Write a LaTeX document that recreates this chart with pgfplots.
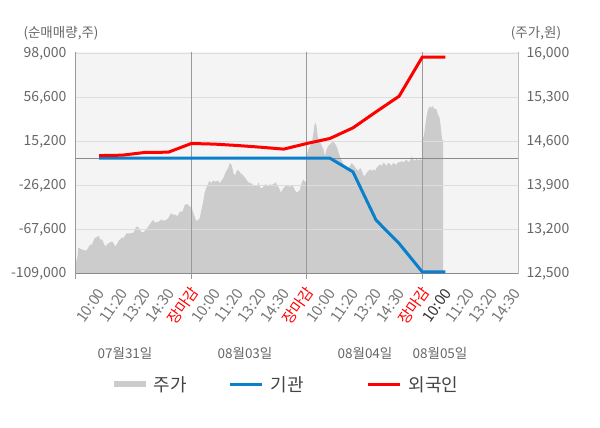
\documentclass[border=0pt]{standalone}
\usepackage{fontspec}
\setmainfont{Noto Sans CJK KR}
\usepackage{pgfplots}
\pgfplotsset{compat=1.18}
\definecolor{bgc}{HTML}{F4F4F4}
\definecolor{areac}{HTML}{CCCCCC}
\definecolor{gridc}{HTML}{DDDDDD}
\definecolor{dayc}{HTML}{999999}
\definecolor{zeroc}{HTML}{8A8A8A}
\definecolor{txtc}{HTML}{666666}
\definecolor{xtc}{HTML}{777777}
\definecolor{legc}{HTML}{444444}
\definecolor{bluec}{HTML}{0A7FCB}
\definecolor{redc}{HTML}{FF0000}
\newcommand{\tk}{\fontsize{14}{16}\selectfont}
\newcommand{\xk}{\fontsize{15}{17}\selectfont}
\begin{document}
\begin{tikzpicture}[x=1pt,y=1pt]
\useasboundingbox (0,0) rectangle (600,428);
% price axis (right)
\begin{axis}[
  at={(76pt,154pt)}, anchor=south west,
  width=442pt, height=222pt, scale only axis,
  xmin=0, xmax=19.15, ymin=12500, ymax=16032,
  axis background/.style={fill=bgc},
  axis x line=none, axis y line*=right,
  y axis line style={draw=gridc!85!black, line width=1pt, -},
  ytick={12500,13200,13900,14600,15300,16000},
  major tick length=0pt,
  scaled y ticks=false,
  yticklabel style={font=\tk, text=txtc, anchor=west, xshift=5pt},
  /pgf/number format/.cd, fixed, 1000 sep={,}, assume math mode=true,
]
\addplot[fill=areac, draw=none] coordinates {
(0.00,12696)(0.06,12765)(0.10,12919)(0.20,12898)(0.32,12882)(0.42,12871)(0.49,12892)(0.60,12961)(0.70,12972)(0.80,13067)(0.92,13094)(0.99,13105)(1.06,13041)(1.13,13052)(1.20,12988)(1.28,12935)(1.35,12972)(1.45,12999)(1.56,13014)(1.63,12988)(1.70,12935)(1.78,12977)(1.85,13030)(1.92,13052)(1.99,13083)(2.06,13067)(2.18,13147)(2.35,13147)(2.49,13158)(2.61,13253)(2.71,13242)(2.78,13200)(2.85,13158)(2.95,13173)(3.07,13226)(3.18,13280)(3.28,13333)(3.35,13359)(3.42,13317)(3.57,13333)(3.64,13348)(3.71,13370)(3.78,13348)(3.90,13359)(4.00,13386)(4.07,13439)(4.14,13465)(4.21,13439)(4.28,13449)(4.36,13423)(4.43,13439)(4.50,13492)(4.61,13492)(4.71,13598)(4.79,13614)(4.86,13600)(4.93,13571)(5.00,13560)
(5.00,13571)(5.07,13492)(5.14,13412)(5.21,13343)(5.29,13359)(5.36,13386)(5.43,13518)(5.50,13624)(5.57,13783)(5.64,13863)(5.73,13942)(5.79,13985)(5.86,13942)(5.93,13985)(6.05,13969)(6.16,13985)(6.23,13942)(6.30,13985)(6.38,14022)(6.45,14091)(6.52,14144)(6.59,14181)(6.65,14261)(6.72,14250)(6.78,14181)(6.83,14091)(6.91,14075)(6.98,14155)(7.05,14144)(7.12,14102)(7.19,14091)(7.26,14059)(7.34,14022)(7.41,13985)(7.48,13958)(7.55,13942)(7.62,13942)(7.69,13900)(7.77,13916)(7.84,13889)(7.91,13958)(7.98,13879)(8.05,13863)(8.12,13889)(8.22,13932)(8.31,13900)(8.41,13926)(8.48,13916)(8.60,13942)(8.65,13958)(8.71,13916)(8.80,13863)(8.88,13794)(8.98,13863)(9.05,13889)(9.13,13916)(9.20,13900)(9.27,13879)(9.34,13916)(9.41,13889)(9.48,13836)(9.56,13794)(9.63,13810)(9.70,13836)(9.77,13942)(9.84,14006)(9.91,13969)(10.00,13960)
(10.00,14405)(10.07,14485)(10.14,14538)(10.22,14591)(10.29,14750)(10.33,14866)(10.37,14909)(10.42,14856)(10.45,14750)(10.50,14644)(10.57,14601)(10.65,14538)(10.72,14485)(10.79,14379)(10.86,14485)(10.93,14538)(11.01,14564)(11.08,14591)(11.16,14601)(11.24,14564)(11.31,14511)(11.38,14432)(11.45,14352)(11.52,14299)(11.59,14246)(11.70,14219)(11.77,14166)(11.87,14219)(11.94,14262)(12.03,14230)(12.10,14193)(12.17,14166)(12.24,14140)(12.31,14193)(12.39,14140)(12.46,14060)(12.53,14071)(12.60,14113)(12.67,14140)(12.74,14166)(12.82,14140)(12.89,14166)(12.96,14140)(13.03,14193)(13.10,14219)(13.18,14246)(13.25,14219)(13.32,14272)(13.39,14246)(13.46,14219)(13.53,14272)(13.61,14246)(13.68,14219)(13.75,14272)(13.82,14246)(13.89,14246)(13.97,14283)(14.04,14272)(14.11,14299)(14.18,14272)(14.25,14299)(14.32,14315)(14.40,14283)(14.47,14299)(14.54,14368)(14.61,14325)(14.68,14299)(14.76,14336)(14.83,14299)(14.90,14325)(15.00,14315)
(15.00,14617)(15.07,14697)(15.11,14803)(15.16,14935)(15.22,15068)(15.26,15121)(15.32,15163)(15.39,15147)(15.46,15174)(15.53,15121)(15.60,15131)(15.68,15041)(15.75,14988)(15.79,14882)(15.83,14750)(15.86,14644)(15.91,14620)
} \closedcycle;
\end{axis}
% net-buy axis (left)
\begin{axis}[
  at={(76pt,154pt)}, anchor=south west,
  width=442pt, height=222pt, scale only axis,
  xmin=0, xmax=19.15, ymin=-109000, ymax=99880,
  axis x line*=bottom, axis y line*=left,
  x axis line style={draw=zeroc, line width=1pt, -},
  y axis line style={draw=zeroc, line width=1pt, -},
  ytick={-109000,-67600,-26200,15200,56600,98000},
  ymajorgrids, major grid style={draw=gridc, line width=1pt},
  major tick length=0pt,
  scaled y ticks=false,
  yticklabel style={font=\tk, text=txtc, anchor=east, xshift=-6pt},
  extra y ticks={0}, extra y tick labels={},
  extra y tick style={grid=major, major grid style={draw=zeroc, line width=1pt}},
  xtick={1,...,19},
  xticklabels={10:00,11:20,13:20,14:30,\textcolor{redc}{장마감},10:00,11:20,13:20,14:30,\textcolor{redc}{장마감},10:00,11:20,13:20,14:30,\textcolor{redc}{장마감},\textcolor{black!80}{10:00},11:20,13:20,14:30},
  xticklabel style={font=\xk, text=xtc, xshift=-8.6pt, yshift=-31.5pt, rotate=55, anchor=center},
  extra x ticks={0,5,10,15},
  extra x tick labels={},
  extra x tick style={grid=major, major grid style={draw=dayc, line width=1pt}, tick align=outside, major tick length=5pt, tick style={draw=dayc, line width=1pt}},
  /pgf/number format/.cd, fixed, 1000 sep={,}, assume math mode=true,
]
\addplot[draw=bluec, line width=3pt] coordinates {
(1,0)(2,0)(3,0)(4,0)(5,0)(6,0)(7,0)(8,0)(9,0)(10,0)(11,0)(12,-12900)(13,-58300)(14,-80300)(15,-107000)(16,-107000)
};
\addplot[draw=redc, line width=3pt] coordinates {
(1,2400)(2,2800)(3,5400)(4,5600)(5,13800)(6,13200)(7,11900)(8,10300)(9,8500)(10,13800)(11,18500)(12,28500)(13,43600)(14,58300)(15,95000)(16,95000)
};
\end{axis}
% titles
\node[font=\fontsize{13.5}{16}\selectfont, text=txtc] at (61,395) {(순매매량,주)};
\node[font=\fontsize{13.5}{16}\selectfont, text=txtc] at (536,395) {(주가,원)};
% dates
\foreach \xx/\tt in {125/07월31일, 245/08월03일, 365/08월04일, 440/08월05일}
  \node[font=\fontsize{13.5}{16}\selectfont, text=txtc] at (\xx,75) {\tt};
% legend
\fill[areac] (114,41) rectangle (146,47);
\node[font=\fontsize{18}{20}\selectfont, text=legc, anchor=west] at (150,43) {주가};
\draw[bluec, line width=3pt] (230,43) -- (262,43);
\node[font=\fontsize{18}{20}\selectfont, text=legc, anchor=west] at (267,43) {기관};
\draw[redc, line width=3pt] (368,43) -- (400,43);
\node[font=\fontsize{18}{20}\selectfont, text=legc, anchor=west] at (405,43) {외국인};
\end{tikzpicture}
\end{document}
